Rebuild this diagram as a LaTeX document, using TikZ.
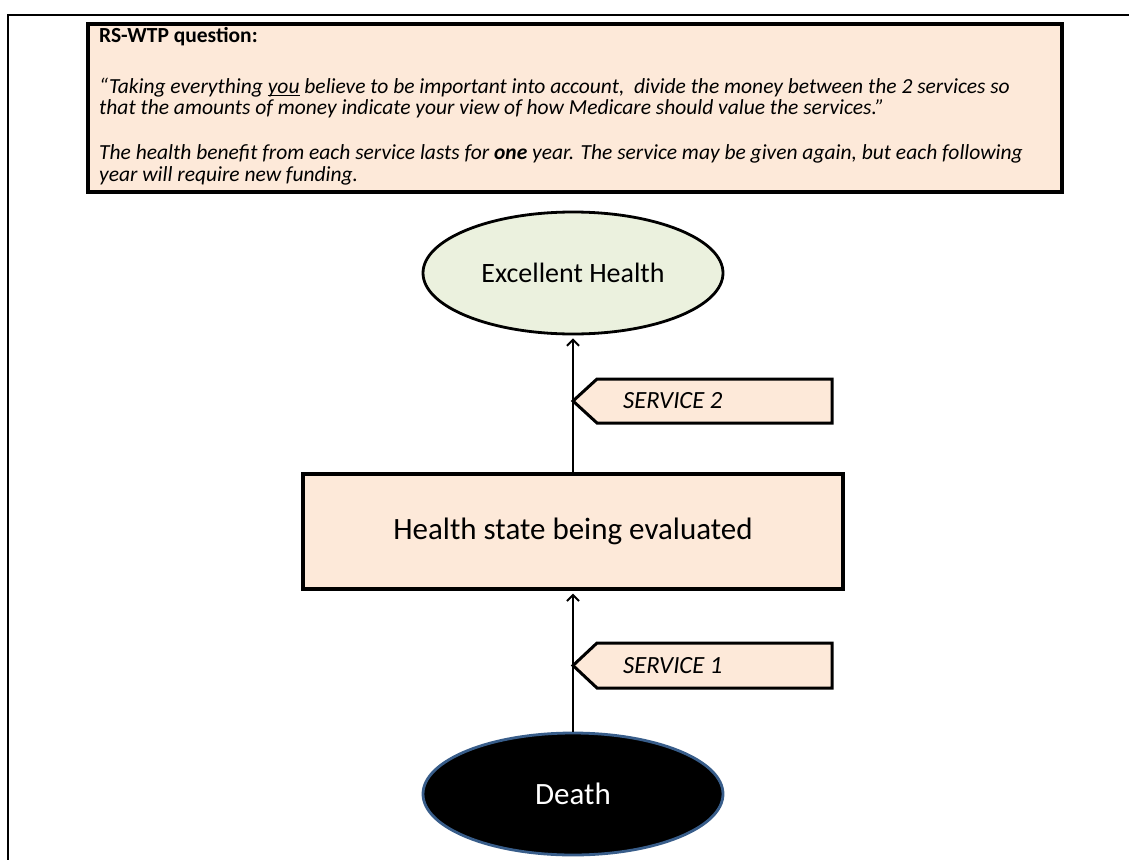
\documentclass[tikz,border=0pt]{standalone}
\usepackage{fontspec}
\setmainfont{Carlito}
\usepackage{tikz}
\usetikzlibrary{arrows.meta,shapes.geometric,positioning}
\definecolor{peach}{RGB}{253,233,217}
\definecolor{sage}{RGB}{235,241,222}
\definecolor{deathrim}{RGB}{56,93,138}
\newcommand{\ulword}[1]{\setbox0\hbox{#1}\rlap{\rule[-2.6pt]{\wd0}{1.2pt}}\box0\relax}

\begin{document}
\begin{tikzpicture}[x=1pt,y=-1pt,>={Straight Barb[length=6pt,width=12pt]},
	state/.style={ellipse,draw,line width=2.8pt,minimum width=300pt,minimum height=122pt,inner sep=0pt},
	hbox/.style={rectangle,draw,line width=3.2pt,fill=peach,inner sep=0pt},
	tag/.style={draw,line width=3pt,fill=peach,line join=miter},
	flow/.style={->,line width=2pt,shorten >=3pt}]
			\useasboundingbox (0,0) rectangle (1129,859);
			\draw[line width=2pt] (8,862) -- (8,15) -- (1132,15);
			% question box
			\node[hbox,minimum width=974pt,minimum height=168pt] (qbox) at (575,108) {};
			\node[anchor=north west,inner sep=0pt,align=left,font=\fontsize{21.5}{21.5}\selectfont] (qtext) at (99,27)
				{\textbf{RS-WTP question:}\\[29.5pt]
				\textit{“Taking everything \ulword{you} believe to be important into account,~ divide the money between the 2 services so}\\
				\textit{that the amounts of money indicate your view of how Medicare should value the services.”}\\[23.5pt]
				\textit{The health benefit from each service lasts for \textbf{one} year. The service may be given again, but each following}\\
				\textit{year will require new funding.}};
			% states
			\node[state,fill=sage,font=\fontsize{28}{32}\selectfont] (exc) at (573,273) {Excellent Health};
			\node[hbox,minimum width=540pt,minimum height=115pt,font=\fontsize{31}{35}\selectfont] (hs) at (573,531.5) {Health state being evaluated};
			\node[state,fill=black,draw=deathrim,text=white,font=\fontsize{31}{35}\selectfont] (death) at (573,794) {Death};
			\path[flow]
				(hs) edge (exc)
				(death) edge (hs);
			% service tags
			\draw[tag] (573,401) -- (597,379) -- (832,379) -- (832,423) -- (597,423) -- cycle;
			\node[anchor=west,inner sep=0pt,font=\itshape\fontsize{24.7}{28}\selectfont] (svc2) at (623,401) {SERVICE 2};
			\draw[tag] (573,665.5) -- (597,643) -- (832,643) -- (832,688) -- (597,688) -- cycle;
			\node[anchor=west,inner sep=0pt,font=\itshape\fontsize{24.7}{28}\selectfont] (svc1) at (623,665.5) {SERVICE 1};
		\end{tikzpicture}
\end{document}
